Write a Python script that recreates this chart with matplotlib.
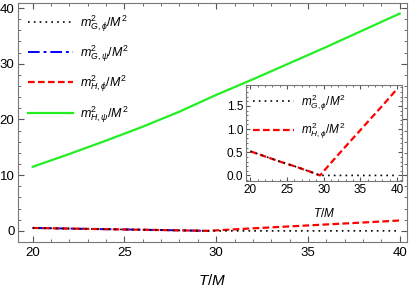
import matplotlib
matplotlib.use("Agg")
import matplotlib.pyplot as plt
import numpy as np
from matplotlib.ticker import MultipleLocator

plt.rcParams['font.family'] = ['Liberation Sans', 'DejaVu Sans']
plt.rcParams['mathtext.fontset'] = 'custom'
plt.rcParams['mathtext.it'] = 'Liberation Sans:italic'
plt.rcParams['mathtext.rm'] = 'Liberation Sans'

# data
T_green = [20, 22, 24, 26, 28, 29.4, 30, 32, 34, 36, 38, 40]
m_H_psi = [11.5, 13.8, 16.2, 18.7, 21.4, 23.5, 24.4, 27.2, 30.1, 33.0, 36.0, 39.0]

T_red = [20, 22, 24, 26, 28, 29.5, 32, 34, 36, 38, 40]
m_H_phi = [0.52, 0.41, 0.30, 0.20, 0.09, 0.0, 0.45, 0.80, 1.15, 1.50, 1.86]

T_black = [20, 22, 24, 26, 28, 29.5, 32, 36, 40]
m_G_phi = [0.52, 0.41, 0.30, 0.20, 0.09, 0.0, 0.0, 0.0, 0.0]

T_blue = [20, 22, 24, 26, 28, 29.5]
m_G_psi = [0.52, 0.41, 0.30, 0.20, 0.09, 0.0]

labels = [r'$m^2_{G,\phi}/M^2$', r'$m^2_{G,\psi}/M^2$', r'$m^2_{H,\phi}/M^2$', r'$m^2_{H,\psi}/M^2$']

fig = plt.figure(figsize=(4.09, 2.91), dpi=100)
ax = fig.add_axes([18/409, 1 - 242/291, (407-18)/409, (242-3)/291])

lb, = ax.plot(T_blue, m_G_psi, color='blue', ls=(0, (6, 2, 1.5, 2)), lw=1.4, zorder=1)
lr, = ax.plot(T_red, m_H_phi, color='red', ls=(0, (3, 1.5)), lw=1.6, zorder=2)
lk, = ax.plot(T_black, m_G_phi, color='black', ls=(0, (1, 2.5)), lw=1.2, zorder=3)
lg, = ax.plot(T_green, m_H_psi, color='#22ee22', lw=1.6, zorder=4)

ax.set_xlim(19.2, 40.4)
ax.set_ylim(-2.0, 40.9)
ax.xaxis.set_major_locator(MultipleLocator(5))
ax.xaxis.set_minor_locator(MultipleLocator(1))
ax.yaxis.set_major_locator(MultipleLocator(10))
ax.yaxis.set_minor_locator(MultipleLocator(2))
ax.tick_params(which='both', direction='in', top=True, right=True, labelsize=9.5, color='#555555')
ax.tick_params(axis='y', pad=2.5)
ax.tick_params(which='major', length=4)
ax.tick_params(which='minor', length=2.5)
for s in ax.spines.values():
    s.set_color('#777777')
ax.set_xlabel(r'$T/M$', fontsize=11, labelpad=10)

leg = ax.legend([lk, lb, lr, lg], labels, loc='upper left', bbox_to_anchor=(0.0, 1.0),
                frameon=False, fontsize=9, handlelength=3.6, labelspacing=0.78, handletextpad=0.6,
                borderaxespad=0.4)

# inset
axi = fig.add_axes([246/409, 1 - 181/291, (402-246)/409, (181-85)/291])
axi.plot(T_red, m_H_phi, color='red', ls=(0, (3, 1.5)), lw=1.6, zorder=2)
axi.plot(T_black, m_G_phi, color='black', ls=(0, (1, 2.5)), lw=1.2, zorder=3)
axi.set_xlim(19.4, 40.7)
axi.set_ylim(-0.12, 1.95)
axi.xaxis.set_major_locator(MultipleLocator(5))
axi.xaxis.set_minor_locator(MultipleLocator(1))
axi.yaxis.set_major_locator(MultipleLocator(0.5))
axi.yaxis.set_minor_locator(MultipleLocator(0.1))
axi.yaxis.set_major_formatter(matplotlib.ticker.FormatStrFormatter('%.1f'))
axi.tick_params(which='both', direction='in', top=True, right=True, labelsize=8.5, color='#555555', pad=2)
axi.tick_params(which='major', length=3)
axi.tick_params(which='minor', length=1.5)
for s in axi.spines.values():
    s.set_color('#777777')
axi.set_xlabel(r'$T/M$', fontsize=8.5, labelpad=8)
axi.legend([axi.lines[1], axi.lines[0]], [labels[0], labels[2]], loc='upper left',
           bbox_to_anchor=(0.0, 1.0), frameon=False, fontsize=8.5, handlelength=3.5,
           labelspacing=0.67, handletextpad=0.6, borderaxespad=0.2)

fig.savefig('out.png', dpi=100)
